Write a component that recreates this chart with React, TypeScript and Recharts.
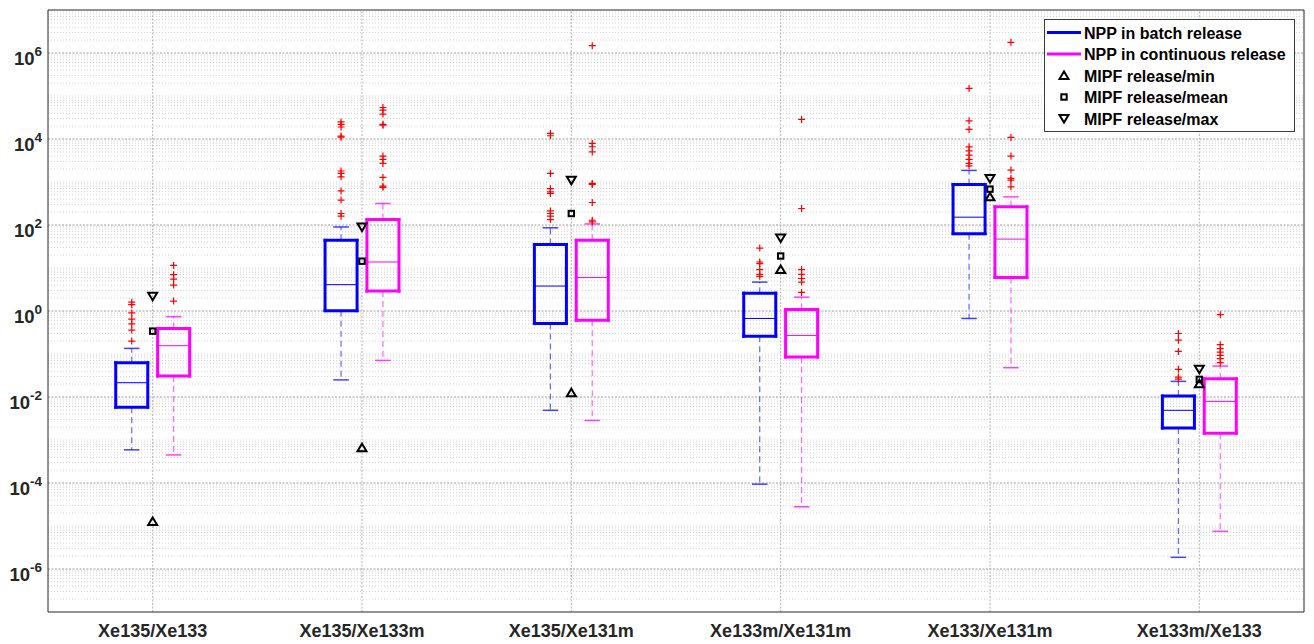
import React from "react";
import {
  ComposedChart,
  Legend,
  ReferenceLine,
  Scatter,
  XAxis,
  YAxis,
} from "recharts";

const categories = [
  "Xe135/Xe133",
  "Xe135/Xe133m",
  "Xe135/Xe131m",
  "Xe133m/Xe131m",
  "Xe133/Xe131m",
  "Xe133m/Xe133",
];

// NPP in batch release (blue)
const batchLow = [5.9e-4, 0.025, 0.0049, 9.4e-5, 0.67, 1.87e-6];
const batchQ1 = [0.0058, 1.02, 0.51, 0.26, 63, 0.0019];
const batchMedian = [0.0215, 4.1, 3.8, 0.67, 152, 0.0049];
const batchQ3 = [0.063, 44, 35, 2.6, 877, 0.0105];
const batchHigh = [0.135, 90, 86, 4.7, 1860, 0.0231];
const batchOutliers = [
  [1.6, 1.4, 0.9, 0.65, 0.5, 0.36, 0.2],
  [25000, 22000, 19000, 11700, 11000, 1800, 1580, 1320, 620, 380, 185, 160],
  [13500, 11900, 1580, 700, 590, 540, 213, 185, 160, 134],
  [29, 13.8, 12.7, 9.2, 7.1, 6.4],
  [150000, 26500, 16700, 6580, 5300, 4200, 3350, 2700, 2380],
  [0.3, 0.21, 0.115, 0.044, 0.029, 0.026],
];

// NPP in continuous release (magenta)
const contLow = [4.5e-4, 0.071, 0.00285, 2.8e-5, 0.048, 7.5e-6];
const contQ1 = [0.0307, 2.9, 0.61, 0.085, 6.0, 0.00144];
const contMedian = [0.156, 13.8, 6.0, 0.27, 47, 0.0079];
const contQ3 = [0.39, 134, 44, 1.08, 264, 0.0267];
const contHigh = [0.74, 316, 106, 2.1, 451, 0.0524];
const contOutliers = [
  [11.5, 7.0, 5.5, 4.0, 1.7],
  [54000, 47000, 38000, 22000, 21000, 4000, 3350, 2700, 1280, 800, 750],
  [1.48e6, 7900, 6600, 5000, 925, 877, 334, 129, 118],
  [28600, 242, 9.2, 7.1, 5.7, 4.7, 2.7],
  [1.77e6, 10900, 4000, 1890, 1210, 1100, 771],
  [0.82, 0.165, 0.133, 0.111, 0.093, 0.078, 0.063],
];

// MIPF release ratios
const mipfMin = [1.27e-5, 6.6e-4, 0.0126, 9.2, 451, 0.0204];
const mipfMean = [0.34, 14.4, 185, 19, 682, 0.0257];
const mipfMax = [2.2, 90, 1100, 50, 1210, 0.044];

const majorExponents = [-6, -4, -2, 0, 2, 4, 6];

const AXIS = "#262626";
const FONT = "'Liberation Sans', Arial, Helvetica, sans-serif";
const BLUE = "#0000ff";
const MAGENTA = "#ff00ff";
const BOX_OFFSET = 0.1;
const BOX_HALF = 0.0765;
const CAP_HALF = 0.037;
const X_DOMAIN: [number, number] = [0.5, 6.5];
const Y_DOMAIN: [number, number] = [1e-7, 1e7];

const majorTicks = majorExponents.map((e) => Math.pow(10, e));
const minorTicks: number[] = [];
for (let e = -7; e < 7; e++) {
  for (let m = 1; m <= 9; m++) {
    if (m === 1 && (e % 2 === 0 || e === -7)) continue;
    minorTicks.push(Number((m * Math.pow(10, e)).toPrecision(3)));
  }
}
const catTicks = categories.map((_, i) => i + 1);

const series = [
  { name: "NPP in batch release", color: BLUE, offset: -BOX_OFFSET, low: batchLow, q1: batchQ1, med: batchMedian, q3: batchQ3, high: batchHigh, outliers: batchOutliers },
  { name: "NPP in continuous release", color: MAGENTA, offset: BOX_OFFSET, low: contLow, q1: contQ1, med: contMedian, q3: contQ3, high: contHigh, outliers: contOutliers },
];

const toPoints = (vals: number[]) => vals.map((v, i) => ({ x: i + 1, y: v }));

function YTick(props: any) {
  const { x, y, payload } = props;
  const exp = Math.round(Math.log10(payload.value));
  return (
    <text x={x} y={y + 11.5} textAnchor="end" fontFamily={FONT} fontSize={18.5} fontWeight="bold" fill={AXIS}>
      <tspan>10</tspan>
      <tspan dy={-9} fontSize={13.5}>{exp}</tspan>
    </text>
  );
}

function XTick(props: any) {
  const { x, y, payload } = props;
  return (
    <text x={x} y={y + 25} textAnchor="middle" fontFamily={FONT} fontSize={18} fontWeight="bold" fill={AXIS}>
      {categories[payload.value - 1]}
    </text>
  );
}

const Plus = (p: any) => (
  <path d={`M${p.cx - 3.5},${p.cy}h7M${p.cx},${p.cy - 3.5}v7`} stroke="#ff0000" strokeWidth={1.2} fill="none" />
);
const TriUp = (p: any) => (
  <path d={`M${p.cx - 4.5},${p.cy + 3.5}L${p.cx + 4.5},${p.cy + 3.5}L${p.cx},${p.cy - 4}Z`} stroke="#000" strokeWidth={2} fill="none" />
);
const TriDown = (p: any) => (
  <path d={`M${p.cx - 4.5},${p.cy - 3.5}L${p.cx + 4.5},${p.cy - 3.5}L${p.cx},${p.cy + 4}Z`} stroke="#000" strokeWidth={2} fill="none" />
);
const Square = (p: any) => (
  <rect x={p.cx - 2.7} y={p.cy - 2.7} width={5.4} height={5.4} stroke="#000" strokeWidth={2} fill="none" />
);

function LegendBox() {
  const rowY = (i: number) => 13.5 + i * 21.5;
  const textProps = { x: 40, fontFamily: FONT, fontSize: 16, fontWeight: "bold", fill: "#000" } as const;
  return (
    <svg width={251} height={113} style={{ display: "block" }}>
      <rect x={0.5} y={0.5} width={250} height={112} fill="#fff" stroke="#3a3a3a" />
      <line x1={3} x2={37} y1={rowY(0)} y2={rowY(0)} stroke={BLUE} strokeWidth={3} />
      <text {...textProps} y={rowY(0) + 6}>NPP in batch release</text>
      <line x1={3} x2={37} y1={rowY(1)} y2={rowY(1)} stroke={MAGENTA} strokeWidth={3} />
      <text {...textProps} y={rowY(1) + 6}>NPP in continuous release</text>
      <TriUp cx={20} cy={rowY(2)} />
      <text {...textProps} y={rowY(2) + 6}>MIPF release/min</text>
      <Square cx={20} cy={rowY(3)} />
      <text {...textProps} y={rowY(3) + 6}>MIPF release/mean</text>
      <TriDown cx={20} cy={rowY(4)} />
      <text {...textProps} y={rowY(4) + 6}>MIPF release/max</text>
    </svg>
  );
}

export default function App() {
  return (
    <div style={{ position: "absolute", left: 0, top: 0, background: "#fff" }}>
      <ComposedChart width={1314} height={644} margin={{ top: 10, right: 10, bottom: 0, left: 0 }}>
        <XAxis
          dataKey="x"
          type="number"
          domain={X_DOMAIN}
          allowDataOverflow
          ticks={catTicks}
          interval={0}
          height={32}
          tickLine={false}
          tickSize={0}
          tickMargin={0}
          axisLine={{ stroke: AXIS }}
          tick={<XTick />}
        />
        <XAxis xAxisId="top" orientation="top" mirror type="number" domain={X_DOMAIN} allowDataOverflow ticks={catTicks} interval={0} height={1} tickSize={13} tick={false} tickLine={{ stroke: AXIS }} axisLine={{ stroke: AXIS }} />
        <XAxis xAxisId="btm" orientation="bottom" mirror type="number" domain={X_DOMAIN} allowDataOverflow ticks={catTicks} interval={0} height={1} tickSize={13} tick={false} tickLine={{ stroke: AXIS }} axisLine={false} />
        <YAxis
          dataKey="y"
          type="number"
          scale="log"
          domain={Y_DOMAIN}
          allowDataOverflow
          ticks={majorTicks}
          interval={0}
          width={48}
          tickLine={false}
          tickSize={0}
          tickMargin={6}
          axisLine={{ stroke: AXIS }}
          tick={YTick}
        />
        <YAxis yAxisId="lmaj" mirror type="number" scale="log" domain={Y_DOMAIN} allowDataOverflow ticks={majorTicks} interval={0} width={1} tickSize={13} tick={false} tickLine={{ stroke: AXIS }} axisLine={false} />
        <YAxis yAxisId="lmin" mirror type="number" scale="log" domain={Y_DOMAIN} allowDataOverflow ticks={minorTicks} interval={0} width={1} tickSize={6} tick={false} tickLine={{ stroke: AXIS }} axisLine={false} />
        <YAxis yAxisId="rmaj" orientation="right" mirror type="number" scale="log" domain={Y_DOMAIN} allowDataOverflow ticks={majorTicks} interval={0} width={1} tickSize={13} tick={false} tickLine={{ stroke: AXIS }} axisLine={{ stroke: AXIS }} />
        <YAxis yAxisId="rmin" orientation="right" mirror type="number" scale="log" domain={Y_DOMAIN} allowDataOverflow ticks={minorTicks} interval={0} width={1} tickSize={6} tick={false} tickLine={{ stroke: AXIS }} axisLine={false} />

        {/* grid */}
        {minorTicks.map((v) => (
          <ReferenceLine key={`mn${v}`} y={v} stroke="#d4d4d4" strokeWidth={1} strokeDasharray="1 2" />
        ))}
        {majorTicks.map((v) => (
          <ReferenceLine key={`mj${v}`} y={v} stroke="#9c9c9c" strokeWidth={1} strokeDasharray="2 1.5" />
        ))}
        {catTicks.map((c) => (
          <ReferenceLine key={`vc${c}`} x={c} stroke="#b4b4b4" strokeWidth={1} strokeDasharray="2 1.5" />
        ))}

        {/* boxes */}
        {series.map((s) =>
          categories.map((_, i) => {
            const cx = i + 1 + s.offset;
            const l = cx - BOX_HALF;
            const r = cx + BOX_HALF;
            const boxLine = { stroke: s.color, strokeWidth: 3, strokeLinecap: "square" as const };
            return (
              <React.Fragment key={`${s.name}${i}`}>
                <ReferenceLine segment={[{ x: cx, y: s.q1[i] }, { x: cx, y: s.low[i] }]} stroke={s.color} strokeOpacity={0.6} strokeWidth={1.2} strokeDasharray="6 4" />
                <ReferenceLine segment={[{ x: cx, y: s.q3[i] }, { x: cx, y: s.high[i] }]} stroke={s.color} strokeOpacity={0.6} strokeWidth={1.2} strokeDasharray="6 4" />
                <ReferenceLine segment={[{ x: cx - CAP_HALF, y: s.low[i] }, { x: cx + CAP_HALF, y: s.low[i] }]} stroke={s.color} strokeOpacity={0.75} strokeWidth={1.5} />
                <ReferenceLine segment={[{ x: cx - CAP_HALF, y: s.high[i] }, { x: cx + CAP_HALF, y: s.high[i] }]} stroke={s.color} strokeOpacity={0.75} strokeWidth={1.5} />
                <ReferenceLine segment={[{ x: l, y: s.q1[i] }, { x: r, y: s.q1[i] }]} {...boxLine} />
                <ReferenceLine segment={[{ x: l, y: s.q3[i] }, { x: r, y: s.q3[i] }]} {...boxLine} />
                <ReferenceLine segment={[{ x: l, y: s.q1[i] }, { x: l, y: s.q3[i] }]} {...boxLine} />
                <ReferenceLine segment={[{ x: r, y: s.q1[i] }, { x: r, y: s.q3[i] }]} {...boxLine} />
                <ReferenceLine segment={[{ x: l, y: s.med[i] }, { x: r, y: s.med[i] }]} stroke={s.color} strokeWidth={1} />
              </React.Fragment>
            );
          })
        )}

        {series.map((s) => (
          <Scatter
            key={`out${s.name}`}
            data={s.outliers.flatMap((vals, i) => vals.map((v) => ({ x: i + 1 + s.offset, y: v })))}
            dataKey="y"
            shape={Plus}
            isAnimationActive={false}
            legendType="none"
          />
        ))}
        <Scatter data={toPoints(mipfMin)} dataKey="y" shape={TriUp} isAnimationActive={false} legendType="none" />
        <Scatter data={toPoints(mipfMean)} dataKey="y" shape={Square} isAnimationActive={false} legendType="none" />
        <Scatter data={toPoints(mipfMax)} dataKey="y" shape={TriDown} isAnimationActive={false} legendType="none" />

        <Legend
          layout="horizontal"
          verticalAlign="middle"
          align="center"
          wrapperStyle={{ left: 1044, top: 19, width: 251, height: 113 }}
          content={() => <LegendBox />}
        />
      </ComposedChart>
    </div>
  );
}
